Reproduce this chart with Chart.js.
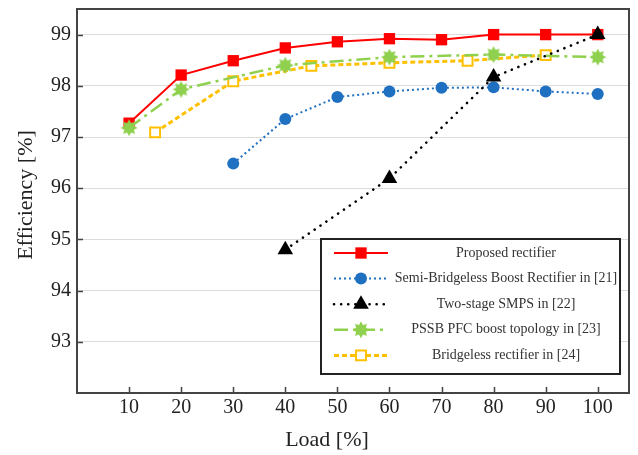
<!DOCTYPE html>
<html>
<head>
<meta charset="utf-8">
<script src="https://cdn.jsdelivr.net/npm/chart.js@4.4.1/dist/chart.umd.min.js"></script>
<style>
  html, body { margin: 0; padding: 0; background: #fff; }
  #wrap { width: 638px; height: 455px; position: relative; }
</style>
</head>
<body>
<div id="wrap"><canvas id="c" width="638" height="455"></canvas></div>
<script>
// values
var loadProposed = [10, 20, 30, 40, 50, 60, 70, 80, 90, 100];
var effProposed = [97.27, 98.21, 98.49, 98.74, 98.86, 98.92, 98.9, 99.0, 99.0, 99.0];

var loadSemi = [30, 40, 50, 60, 70, 80, 90, 100];
var effSemi = [96.48, 97.35, 97.78, 97.89, 97.96, 97.97, 97.89, 97.84];

var loadTwoStage = [40, 60, 80, 100];
var effTwoStage = [94.8, 96.19, 98.17, 99.0];

var loadPssb = [10, 20, 40, 60, 80, 100];
var effPssb = [97.18, 97.93, 98.4, 98.56, 98.61, 98.56];

var loadBridgeless = [15, 30, 45, 60, 75, 90];
var effBridgeless = [97.09, 98.09, 98.39, 98.45, 98.49, 98.6];

var seriesNames = [
    "Proposed rectifier",
    "Semi-Bridgeless Boost Rectifier in [21]",
    "Two-stage SMPS in [22]",
    "PSSB PFC boost topology in [23]",
    "Bridgeless rectifier in [24]"
];
var xTicks = [10, 20, 30, 40, 50, 60, 70, 80, 90, 100];
var yTicks = [93, 94, 95, 96, 97, 98, 99];

var FONT = "'Liberation Serif', 'DejaVu Serif', serif";

function pairs(xs, ys) {
    var out = [];
    for (var i = 0; i < xs.length; i++) out.push({ x: xs[i], y: ys[i] });
    return out;
}

// filled starburst marker for the PSSB series
function makeStar(color) {
    var cv = document.createElement("canvas");
    cv.width = 18; cv.height = 18;
    var g = cv.getContext("2d");
    var n = 8, ro = 8.5, ri = 5.2;
    g.beginPath();
    for (var k = 0; k < n * 2; k++) {
        var r = (k % 2 === 0) ? ro : ri;
        var a = -Math.PI / 2 + k * Math.PI / n;
        var px = 9 + r * Math.cos(a), py = 9 + r * Math.sin(a);
        if (k === 0) g.moveTo(px, py); else g.lineTo(px, py);
    }
    g.closePath();
    g.fillStyle = color;
    g.fill();
    return cv;
}
var starImg = makeStar("#8fd14f");

// draws frame, inward ticks, axis titles and the boxed legend
var decorPlugin = {
    id: "decor",
    beforeDatasetsDraw: function(chart) {
        var ctx = chart.ctx, a = chart.chartArea;
        var xs = chart.scales.x, ys = chart.scales.y;
        ctx.save();
        ctx.strokeStyle = "#444";
        ctx.lineWidth = 1.5;
        ctx.beginPath();
        xTicks.forEach(function(t) {
            var px = Math.round(xs.getPixelForValue(t)) + 0.5;
            ctx.moveTo(px, a.bottom); ctx.lineTo(px, a.bottom - 6);
        });
        yTicks.forEach(function(t) {
            var py = Math.round(ys.getPixelForValue(t)) + 0.5;
            ctx.moveTo(a.left, py); ctx.lineTo(a.left + 6, py);
        });
        ctx.stroke();
        ctx.restore();
    },
    afterDraw: function(chart) {
        var ctx = chart.ctx, a = chart.chartArea;
        ctx.save();
        ctx.strokeStyle = "#444";
        ctx.lineWidth = 2;
        ctx.strokeRect(a.left, a.top, a.right - a.left, a.bottom - a.top);

        // axis titles
        ctx.fillStyle = "#222";
        ctx.font = "22px " + FONT;
        ctx.textAlign = "center";
        ctx.textBaseline = "middle";
        ctx.fillText("Load [%]", 327, 440);
        ctx.translate(26, 195);
        ctx.rotate(-Math.PI / 2);
        ctx.fillText("Efficiency [%]", 0, 0);
        ctx.restore();

        // legend box
        ctx.save();
        var bx = 321, by = 239, bw = 299, bh = 135;
        ctx.fillStyle = "#fff";
        ctx.fillRect(bx, by, bw, bh);
        ctx.strokeStyle = "#222";
        ctx.lineWidth = 2;
        ctx.strokeRect(bx, by, bw, bh);
        ctx.font = "14px " + FONT;
        ctx.textAlign = "center";
        ctx.textBaseline = "middle";
        chart.data.datasets.forEach(function(ds, i) {
            var cy = by + 14 + i * 25.6;
            ctx.save();
            ctx.strokeStyle = ds.borderColor;
            ctx.lineWidth = ds.borderWidth;
            ctx.lineCap = ds.borderCapStyle || "butt";
            ctx.setLineDash(ds.borderDash || []);
            ctx.beginPath();
            ctx.moveTo(334, cy); ctx.lineTo(388, cy);
            ctx.stroke();
            ctx.restore();
            ctx.save();
            ctx.fillStyle = ds.pointBackgroundColor;
            ctx.strokeStyle = ds.pointBorderColor;
            ctx.lineWidth = ds.pointBorderWidth;
            Chart.helpers.drawPoint(ctx, {
                pointStyle: ds.pointStyle,
                radius: ds.pointRadius,
                borderWidth: ds.pointBorderWidth,
                rotation: 0
            }, 361, cy);
            ctx.restore();
            ctx.fillStyle = "#333";
            ctx.fillText(seriesNames[i], 506, cy);
        });
        ctx.restore();
    }
};

var ctx = document.getElementById("c").getContext("2d");
var chart = new Chart(ctx, {
    type: "line",
    data: {
        datasets: [{
            label: seriesNames[0],
            data: pairs(loadProposed, effProposed),
            order: 5,
            borderColor: "#ff0000",
            borderWidth: 2,
            pointStyle: "rect",
            pointRadius: 8,
            pointBackgroundColor: "#ff0000",
            pointBorderColor: "#ff0000",
            pointBorderWidth: 0
        }, {
            label: seriesNames[1],
            data: pairs(loadSemi, effSemi),
            order: 4,
            borderColor: "#1f70c1",
            borderWidth: 2,
            borderDash: [2, 3],
            pointStyle: "circle",
            pointRadius: 6,
            pointBackgroundColor: "#1f70c1",
            pointBorderColor: "#1f70c1",
            pointBorderWidth: 0
        }, {
            label: seriesNames[2],
            data: pairs(loadTwoStage, effTwoStage),
            order: 1,
            borderColor: "#000000",
            borderWidth: 2.6,
            borderDash: [0.1, 7],
            borderCapStyle: "round",
            pointStyle: "triangle",
            pointRadius: 9,
            pointBackgroundColor: "#000000",
            pointBorderColor: "#000000",
            pointBorderWidth: 0
        }, {
            label: seriesNames[3],
            data: pairs(loadPssb, effPssb),
            order: 2,
            borderColor: "#8fd14f",
            borderWidth: 2.5,
            borderDash: [14, 5, 3, 5],
            pointStyle: starImg,
            pointRadius: 9,
            pointBackgroundColor: "#8fd14f",
            pointBorderColor: "#8fd14f",
            pointBorderWidth: 0
        }, {
            label: seriesNames[4],
            data: pairs(loadBridgeless, effBridgeless),
            order: 3,
            borderColor: "#ffc000",
            borderWidth: 3,
            borderDash: [5, 3],
            pointStyle: "rect",
            pointRadius: 7,
            pointBackgroundColor: "#ffffff",
            pointBorderColor: "#ffc000",
            pointBorderWidth: 2
        }]
    },
    options: {
        responsive: false,
        animation: false,
        layout: { padding: { top: 7, right: 7, left: 0, bottom: 0 } },
        plugins: {
            legend: { display: false },
            tooltip: { enabled: false }
        },
        elements: { line: { tension: 0, fill: false } },
        scales: {
            x: {
                type: "linear",
                min: 0,
                max: 106,
                afterFit: function(s) {
                    s.height = 62;
                    s.paddingLeft = 0; s.paddingRight = 0;
                },
                afterBuildTicks: function(s) {
                    s.ticks = xTicks.map(function(v) { return { value: v }; });
                },
                grid: { display: false, drawTicks: false },
                border: { display: false },
                ticks: {
                    padding: 3,
                    color: "#222",
                    font: { family: FONT, size: 20 },
                    maxRotation: 0
                }
            },
            y: {
                min: 92,
                max: 99.5,
                afterFit: function(s) {
                    s.width = 77;
                    s.paddingTop = 0; s.paddingBottom = 0;
                },
                afterBuildTicks: function(s) {
                    s.ticks = yTicks.map(function(v) { return { value: v }; });
                },
                grid: { color: "#dcdcdc", lineWidth: 1, drawTicks: false },
                border: { display: false },
                ticks: {
                    padding: 6,
                    color: "#222",
                    font: { family: FONT, size: 20 }
                }
            }
        }
    },
    plugins: [decorPlugin]
});
</script>
</body>
</html>
